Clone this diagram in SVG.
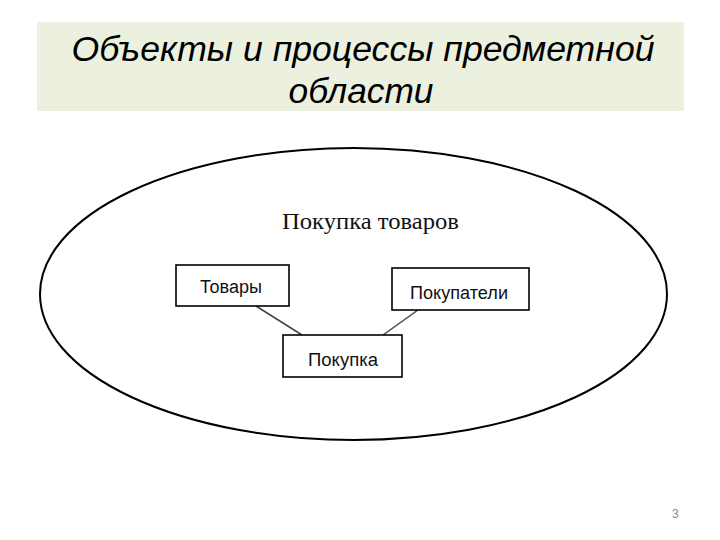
<svg xmlns="http://www.w3.org/2000/svg" width="720" height="540" viewBox="0 0 720 540">
<style>
.box{fill:#fff;stroke:#000;stroke-width:1.6}
.lbl{font-family:"Liberation Sans",Arial,sans-serif;font-size:18px;fill:#111}
.conn{stroke:#444;stroke-width:1.5;fill:none}
.title{font-family:"Liberation Sans",Arial,sans-serif;font-style:italic;font-size:35px;fill:#000;text-anchor:middle}
</style>
<rect width="720" height="540" fill="#fff"/>
<g id="title">
<rect x="37" y="22" width="647" height="89" fill="#ebf1de"/>
<text class="title" x="363" y="61" textLength="583" lengthAdjust="spacingAndGlyphs">Объекты и процессы предметной</text>
<text class="title" x="361" y="103" textLength="145" lengthAdjust="spacingAndGlyphs">области</text>
</g>
<g id="process">
<ellipse cx="353.5" cy="294" rx="313.5" ry="146" fill="none" stroke="#000" stroke-width="2"/>
<text x="282" y="229" font-family="'Liberation Serif','Times New Roman',serif" font-size="24" fill="#111" textLength="177" lengthAdjust="spacingAndGlyphs">Покупка товаров</text>
</g>
<g id="connectors">
<line class="conn" x1="256" y1="306" x2="302" y2="335"/>
<line class="conn" x1="418" y1="310" x2="383" y2="335"/>
</g>
<g id="tovary">
<rect class="box" x="176" y="265" width="113" height="41"/>
<text class="lbl" x="200" y="293" textLength="62" lengthAdjust="spacingAndGlyphs">Товары</text>
</g>
<g id="pokupateli">
<rect class="box" x="392" y="268" width="137" height="42"/>
<text class="lbl" x="410" y="299" textLength="98" lengthAdjust="spacingAndGlyphs">Покупатели</text>
</g>
<g id="pokupka">
<rect class="box" x="283" y="335" width="119" height="42"/>
<text class="lbl" x="308" y="366" textLength="70" lengthAdjust="spacingAndGlyphs">Покупка</text>
</g>
<text x="672" y="518" font-family="'Liberation Sans',Arial,sans-serif" font-size="12" fill="#888">3</text>
</svg>
